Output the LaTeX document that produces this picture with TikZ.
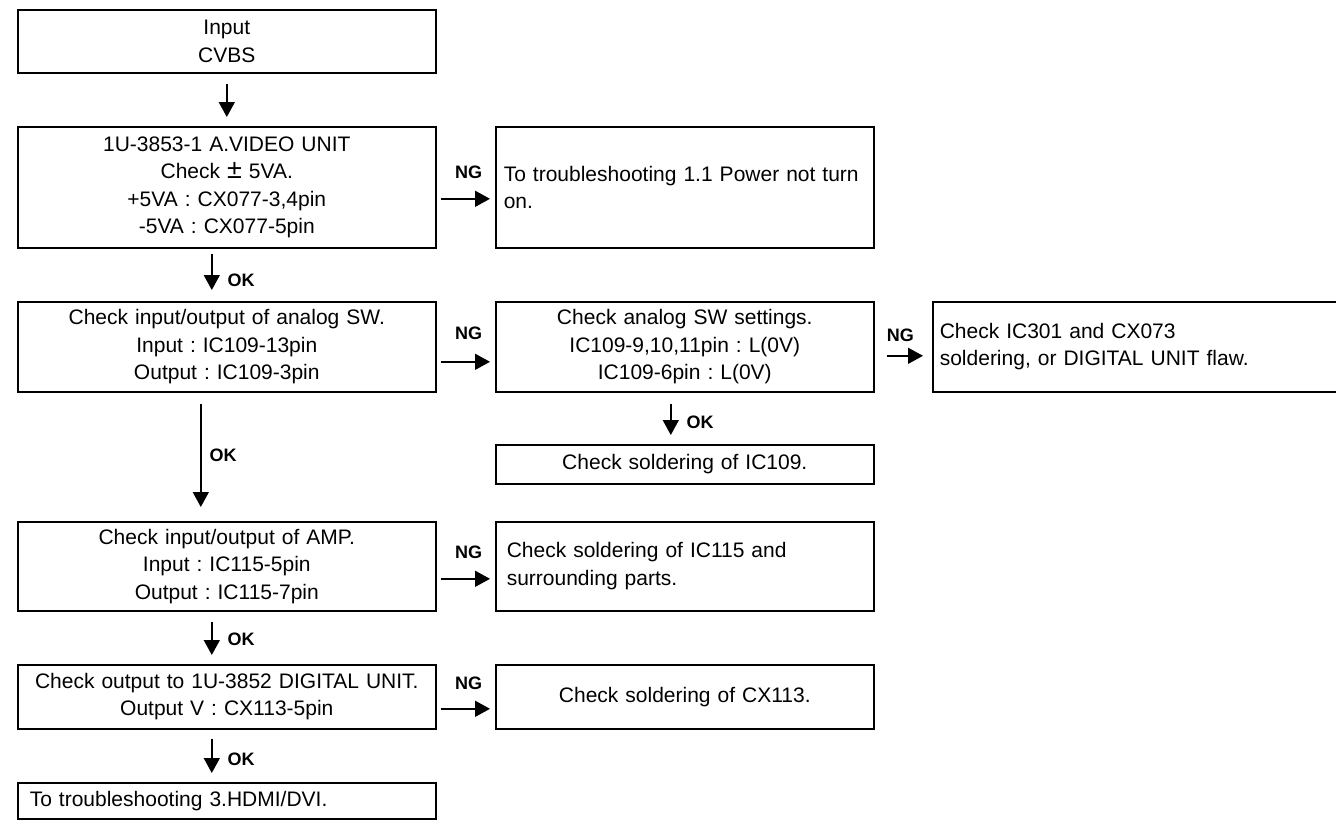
\documentclass[tikz,border=0pt]{standalone}
\usepackage{fontspec}
\setmainfont{Liberation Sans}
\usetikzlibrary{arrows.meta}
\frenchspacing
\begin{document}
\begin{tikzpicture}[x=1pt,y=-1pt,
  box/.style={draw, line width=1.6pt, inner ysep=0pt, anchor=north west,
    font=\fontsize{21}{27.5}\selectfont\frenchspacing},
  cbox/.style n args={3}{box, inner xsep=6pt, text width=#1-12pt, minimum width=#1, minimum height=#2, align=center},
  lbox/.style n args={3}{box, inner xsep=#3, text width=#1-2*#3, minimum width=#1, minimum height=#2, align=left},
  arr/.style={line width=1.6pt, -{Triangle[length=15pt,width=16pt]}},
  lab/.style={font=\bfseries\fontsize{18}{20}\selectfont, inner sep=0pt}]
\useasboundingbox (0,0) rectangle (1336,820);

\node[cbox={418pt}{63pt}{0pt}] (b1) at (17,9) {Input\\CVBS};
\node[cbox={418pt}{121pt}{0pt}] (b2) at (17,126) {1U-3853-1 A.VIDEO UNIT\\Check {\fontsize{27}{27.5}\selectfont ±} 5VA.\\+5VA : CX077-3,4pin\\-5VA : CX077-5pin};
\node[lbox={378pt}{121pt}{8pt}] (b3) at (495,126) {To troubleshooting 1.1 Power not turn on.};
\node[cbox={418pt}{90pt}{0pt}] (b4) at (17,301) {Check input/output of analog SW.\\Input : IC109-13pin\\Output : IC109-3pin};
\node[cbox={378pt}{90pt}{0pt}] (b5) at (495,301) {Check analog SW settings.\\IC109-9,10,11pin : L(0V)\\IC109-6pin : L(0V)};
\node[lbox={410pt}{90pt}{7pt}] (b6) at (932,301) {Check IC301 and CX073\\soldering, or DIGITAL UNIT flaw.};
\node[cbox={378pt}{39pt}{0pt}] (b7) at (495,444) {Check soldering of IC109.};
\node[cbox={418pt}{89pt}{0pt}] (b8) at (17,521) {Check input/output of AMP.\\Input : IC115-5pin\\Output : IC115-7pin};
\node[lbox={378pt}{89pt}{11pt}] (b9) at (495,521) {Check soldering of IC115 and\\surrounding parts.};
\node[cbox={418pt}{64pt}{0pt}] (b10) at (17,664) {Check output to 1U-3852 DIGITAL UNIT.\\Output V : CX113-5pin};
\node[cbox={378pt}{64pt}{0pt}] (b11) at (495,664) {Check soldering of CX113.};
\node[lbox={418pt}{36pt}{12pt}] (b12) at (17,782) {To troubleshooting 3.HDMI/DVI.};

% vertical connectors
\draw[arr, shorten <=10pt, shorten >=9pt] (b1.south) -- (b2.north);
\draw[arr, shorten <=5pt, shorten >=11pt] ([xshift=-15pt]b2.south) -- ([xshift=-15pt]b4.north)
  node[lab, pos=0.6, right=15pt] {OK};
\draw[arr, shorten <=11pt, shorten >=14pt] ([xshift=-26pt]b4.south) -- ([xshift=-26pt]b8.north)
  node[lab, pos=0.49, right=8pt] {OK};
\draw[arr, shorten <=11pt, shorten >=9pt] ([xshift=-14pt]b5.south) -- ([xshift=-14pt]b7.north)
  node[lab, pos=0.58, right=15pt] {OK};
\draw[arr, shorten <=10pt, shorten >=9pt] ([xshift=-15pt]b8.south) -- ([xshift=-15pt]b10.north)
  node[lab, pos=0.52, right=15pt] {OK};
\draw[arr, shorten <=9pt, shorten >=9pt] ([xshift=-15pt]b10.south) -- ([xshift=-15pt]b12.north)
  node[lab, pos=0.56, right=15pt] {OK};

% horizontal NG connectors
\draw[arr, shorten <=4pt, shorten >=5pt] ([yshift=-11.5pt]b2.east) -- ([yshift=-11.5pt]b2.east -| b3.west)
  node[lab, pos=0.55, above=19pt] {NG};
\draw[arr, shorten <=4pt, shorten >=5pt] ([yshift=-15pt]b4.east) -- ([yshift=-15pt]b4.east -| b5.west)
  node[lab, pos=0.55, above=21pt] {NG};
\draw[arr, shorten <=12pt, shorten >=9pt] ([yshift=-9pt]b5.east) -- ([yshift=-9pt]b5.east -| b6.west)
  node[lab, pos=0.45, above=13pt] {NG};
\draw[arr, shorten <=4pt, shorten >=5pt] ([yshift=-12.5pt]b8.east) -- ([yshift=-12.5pt]b8.east -| b9.west)
  node[lab, pos=0.55, above=19pt] {NG};
\draw[arr, shorten <=4pt, shorten >=5pt] ([yshift=-12pt]b10.east) -- ([yshift=-12pt]b10.east -| b11.west)
  node[lab, pos=0.55, above=18pt] {NG};
\end{tikzpicture}
\end{document}
